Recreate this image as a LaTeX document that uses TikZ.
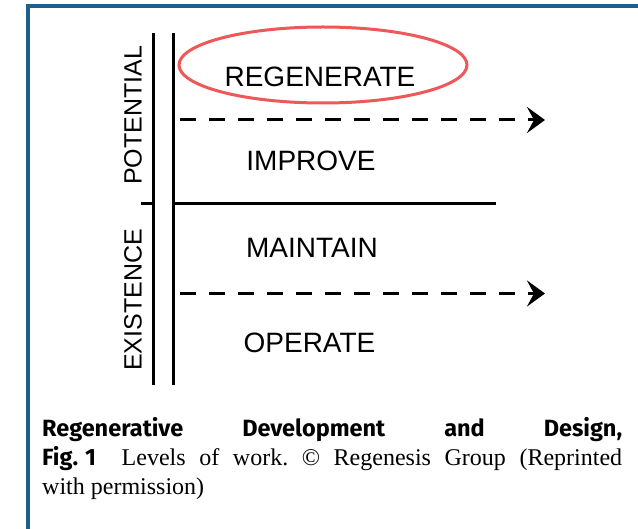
\documentclass[tikz,border=0pt]{standalone}
\usepackage{fontspec}
\setmainfont{Liberation Serif}
\newfontfamily\diagfont{Liberation Sans}
\newfontfamily\capsans{Fira Sans}
\usetikzlibrary{arrows.meta}
\definecolor{framecol}{RGB}{31,95,138}
\definecolor{ringred}{RGB}{238,88,88}
\frenchspacing
\begin{document}
\begin{tikzpicture}[x=1pt,y=-1pt,
  level/.style={inner sep=0pt, anchor=base, font=\diagfont\fontsize{28}{28}\selectfont},
  side/.style={inner sep=0pt, rotate=90, font=\diagfont\fontsize{25}{25}\selectfont},
  axisline/.style={line width=3pt, black},
  flowdash/.style={line width=3pt, black, dash pattern=on 16pt off 13pt,
     -{Stealth[length=18pt,width=26pt,inset=7pt]}},
  capline/.style={inner sep=0pt, anchor=base west, font=\fontsize{24}{29}\selectfont}]
\useasboundingbox (0,0) rectangle (638,529);
\fill[white] (0,0) rectangle (638,529);
% frame
\draw[framecol, line width=4pt] (28,529) -- (28,6.5) -- (638,6.5);
% axis lines
\coordinate (v1top) at (153.5,33);
\coordinate (v1bot) at (153.5,385);
\coordinate (v2top) at (173.5,33);
\coordinate (v2bot) at (173.5,385);
\coordinate (tickL) at (141,203.5);
\coordinate (tickR) at (153.5,203.5);
\coordinate (midL) at (173.5,203.5);
\coordinate (midR) at (496,203.5);
\coordinate (d1s) at (180,120);
\coordinate (d1e) at (545,120);
\coordinate (d2s) at (180,293.5);
\coordinate (d2e) at (545,293.5);
\draw[axisline] (v1top) -- (v1bot);
\draw[axisline] (v2top) -- (v2bot);
\draw[axisline, line width=2.5pt] (tickL) -- (tickR);
\draw[axisline, line width=3.5pt] (midL) -- (midR);
\draw[flowdash] (d1s) -- (d1e);
\draw[flowdash] (d2s) -- (d2e);
% ring
\draw[ringred, line width=3pt] (323,65) ellipse [x radius=144, y radius=38];
% level labels
\node[level] (regen) at (320,87) {REGENERATE};
\node[level] (improve) at (311,171) {IMPROVE};
\node[level] (maintain) at (312,258) {MAINTAIN};
\node[level] (operate) at (309.5,353) {OPERATE};
% side labels
\node[side] (potential) at (133,115.5) {POTENTIAL};
\node[side] (existence) at (133,300) {EXISTENCE};
% caption
\node[capline] (cap1) at (42,437) {\makebox[580pt][s]{\capsans\bfseries\fontsize{23.5}{29}\selectfont Regenerative Development and Design,}};
\node[capline] (cap2) at (42,466) {\makebox[580pt][s]{{\capsans\bfseries\fontsize{23.5}{29}\selectfont Fig.\hspace{0.3em}1}\hspace{0.5em} Levels of work. © Regenesis Group (Reprinted}};
\node[capline] (cap3) at (42,495) {with permission)};
\end{tikzpicture}
\end{document}
